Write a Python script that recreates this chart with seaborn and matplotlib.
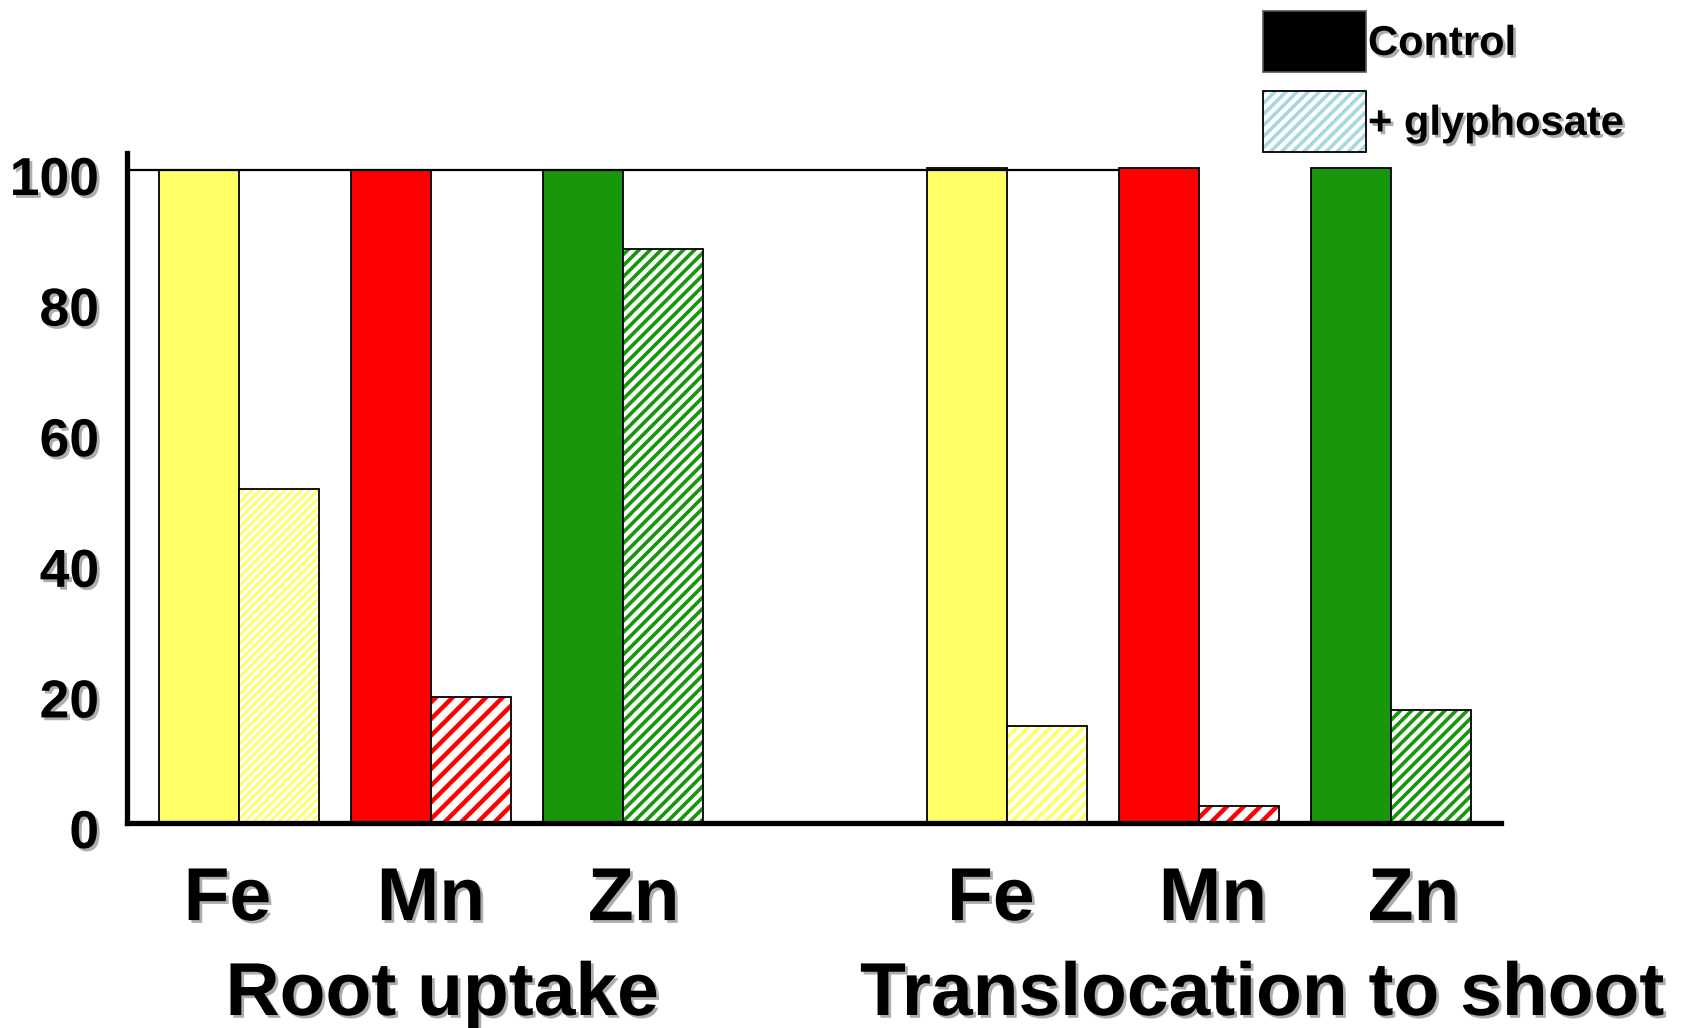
import matplotlib
matplotlib.use("Agg")
import matplotlib.pyplot as plt
import seaborn as sns
import pandas as pd
from matplotlib.patches import Patch, Rectangle
from matplotlib.legend_handler import HandlerTuple
from matplotlib.transforms import ScaledTranslation
import matplotlib.patheffects as pe

# ---------------- data ----------------
slots = ["Root Fe", "Root Mn", "Root Zn", "gap", "Shoot Fe", "Shoot Mn", "Shoot Zn"]
elements = ["Fe", "Mn", "Zn", "", "Fe", "Mn", "Zn"]
control = [100, 100, 100, None, 100.3, 100.3, 100.3]
glyphosate = [51.2, 19.3, 87.9, None, 14.9, 2.6, 17.3]
treatments = ["Control", "+ glyphosate"]
group_labels = ["Root uptake", "Translocation to shoot"]
yticks = [0, 20, 40, 60, 80, 100]

# ---------------- style ----------------
element_colors = {"Fe": "#FFFF66", "Mn": "#FF0000", "Zn": "#18960C"}
hatches = ["////", "//", "///", "", "///", "//", "///"]
hatch_lw = [2.0, 3.2, 2.6, 0, 2.6, 3.2, 2.6]
label_shift = [-0.06, 0.0, 0.056, 0, -0.084, 0.073, 0.118]

rows = []
for s, c, g in zip(slots, control, glyphosate):
    if c is not None:
        rows.append({"slot": s, "treatment": treatments[0], "value": c})
        rows.append({"slot": s, "treatment": treatments[1], "value": g})
df = pd.DataFrame(rows)

sns.set_theme(style="white")
plt.rcParams["font.family"] = ["Liberation Sans", "DejaVu Sans"]
plt.rcParams["font.weight"] = "bold"
plt.rcParams["text.color"] = "black"
plt.rcParams["xtick.color"] = "black"
plt.rcParams["ytick.color"] = "black"
plt.rcParams["hatch.linewidth"] = 2.6

shadow = [pe.withSimplePatchShadow(offset=(2, -2), shadow_rgbFace="#8a8a8a", alpha=0.7)]

fig = plt.figure(figsize=(16.91, 10.28), dpi=100)
ax = fig.add_axes([0.0751, 0.1994, 0.8125, 0.6518])

sns.barplot(data=df, x="slot", y="value", hue="treatment", order=slots,
            hue_order=treatments, width=0.833, gap=0, errorbar=None,
            legend=False, saturation=1, ax=ax)

for ci, cont in enumerate(ax.containers):
    for bar in cont:
        xc = bar.get_x() + bar.get_width() / 2
        idx = int(round(xc))
        col = element_colors[elements[idx]]
        bar.set_zorder(2)
        if ci == 0:
            bar.set_facecolor(col)
            bar.set_edgecolor("black")
            bar.set_linewidth(1.3)
        else:
            bar.set_facecolor("white")
            bar.set_hatch(hatches[idx])
            bar.set_edgecolor(col)
            bar.set_linewidth(0)
            if hasattr(bar, "set_hatch_linewidth"):
                bar.set_hatch_linewidth(hatch_lw[idx])
            outline = Rectangle(bar.get_xy(), bar.get_width(), bar.get_height(),
                                fill=False, edgecolor="black", linewidth=1.3, zorder=2.1)
            ax.add_patch(outline)

ax.set_xlim(-0.583, 6.573)
ax.set_ylim(0, 102.6)
ax.hlines(100, -0.583, 4.583, color="black", linewidth=1.6, zorder=3)

ax.set_xlabel("")
ax.set_ylabel("")
tick_pos = [i + d for i, (d, e) in enumerate(zip(label_shift, elements)) if e]
tick_lab = [e for e in elements if e]
ax.set_xticks(tick_pos)
ax.set_xticklabels(tick_lab, fontsize=54, fontweight="bold", color="black")
ax.set_yticks(yticks)
ax.set_yticklabels([str(v) for v in yticks], fontsize=38.5, fontweight="bold", color="black")
ax.tick_params(axis="x", length=0, pad=31)
ax.tick_params(axis="y", length=0, pad=20)
down = ScaledTranslation(0, -4 / 72, fig.dpi_scale_trans)
for lbl in ax.get_yticklabels():
    lbl.set_transform(lbl.get_transform() + down)
for lbl in ax.get_xticklabels() + ax.get_yticklabels():
    lbl.set_path_effects(shadow)

for side in ["top", "right"]:
    ax.spines[side].set_visible(False)
for side in ["left", "bottom"]:
    ax.spines[side].set_linewidth(3.8)
    ax.spines[side].set_color("black")
    ax.spines[side].set_zorder(4)

fig.text(442 / 1691, 1 - 1015 / 1028, group_labels[0], fontsize=54, fontweight="bold",
         ha="center", va="baseline", color="black", path_effects=shadow)
fig.text(1262 / 1691, 1 - 1015 / 1028, group_labels[1], fontsize=54, fontweight="bold",
         ha="center", va="baseline", color="black", path_effects=shadow)

# legend
h_ctrl = Patch(facecolor="black", edgecolor="#555555", linewidth=1.2)
h_gly = (Patch(facecolor="white", edgecolor="#A9D8E0", hatch="///", linewidth=0),
         Patch(fill=False, edgecolor="black", linewidth=1.3))
leg = fig.legend([h_ctrl, h_gly], treatments, loc="upper left",
                 bbox_to_anchor=(1263 / 1691, 1 - 11 / 1028),
                 frameon=False, prop={"weight": "bold", "size": 30},
                 handlelength=2.47, handleheight=1.88, handletextpad=0.05,
                 labelspacing=0.45, borderpad=0, borderaxespad=0,
                 handler_map={tuple: HandlerTuple(ndivide=1)})
for t in leg.get_texts():
    t.set_color("black")
    t.set_path_effects(shadow)

fig.savefig("out.png", dpi=100)
